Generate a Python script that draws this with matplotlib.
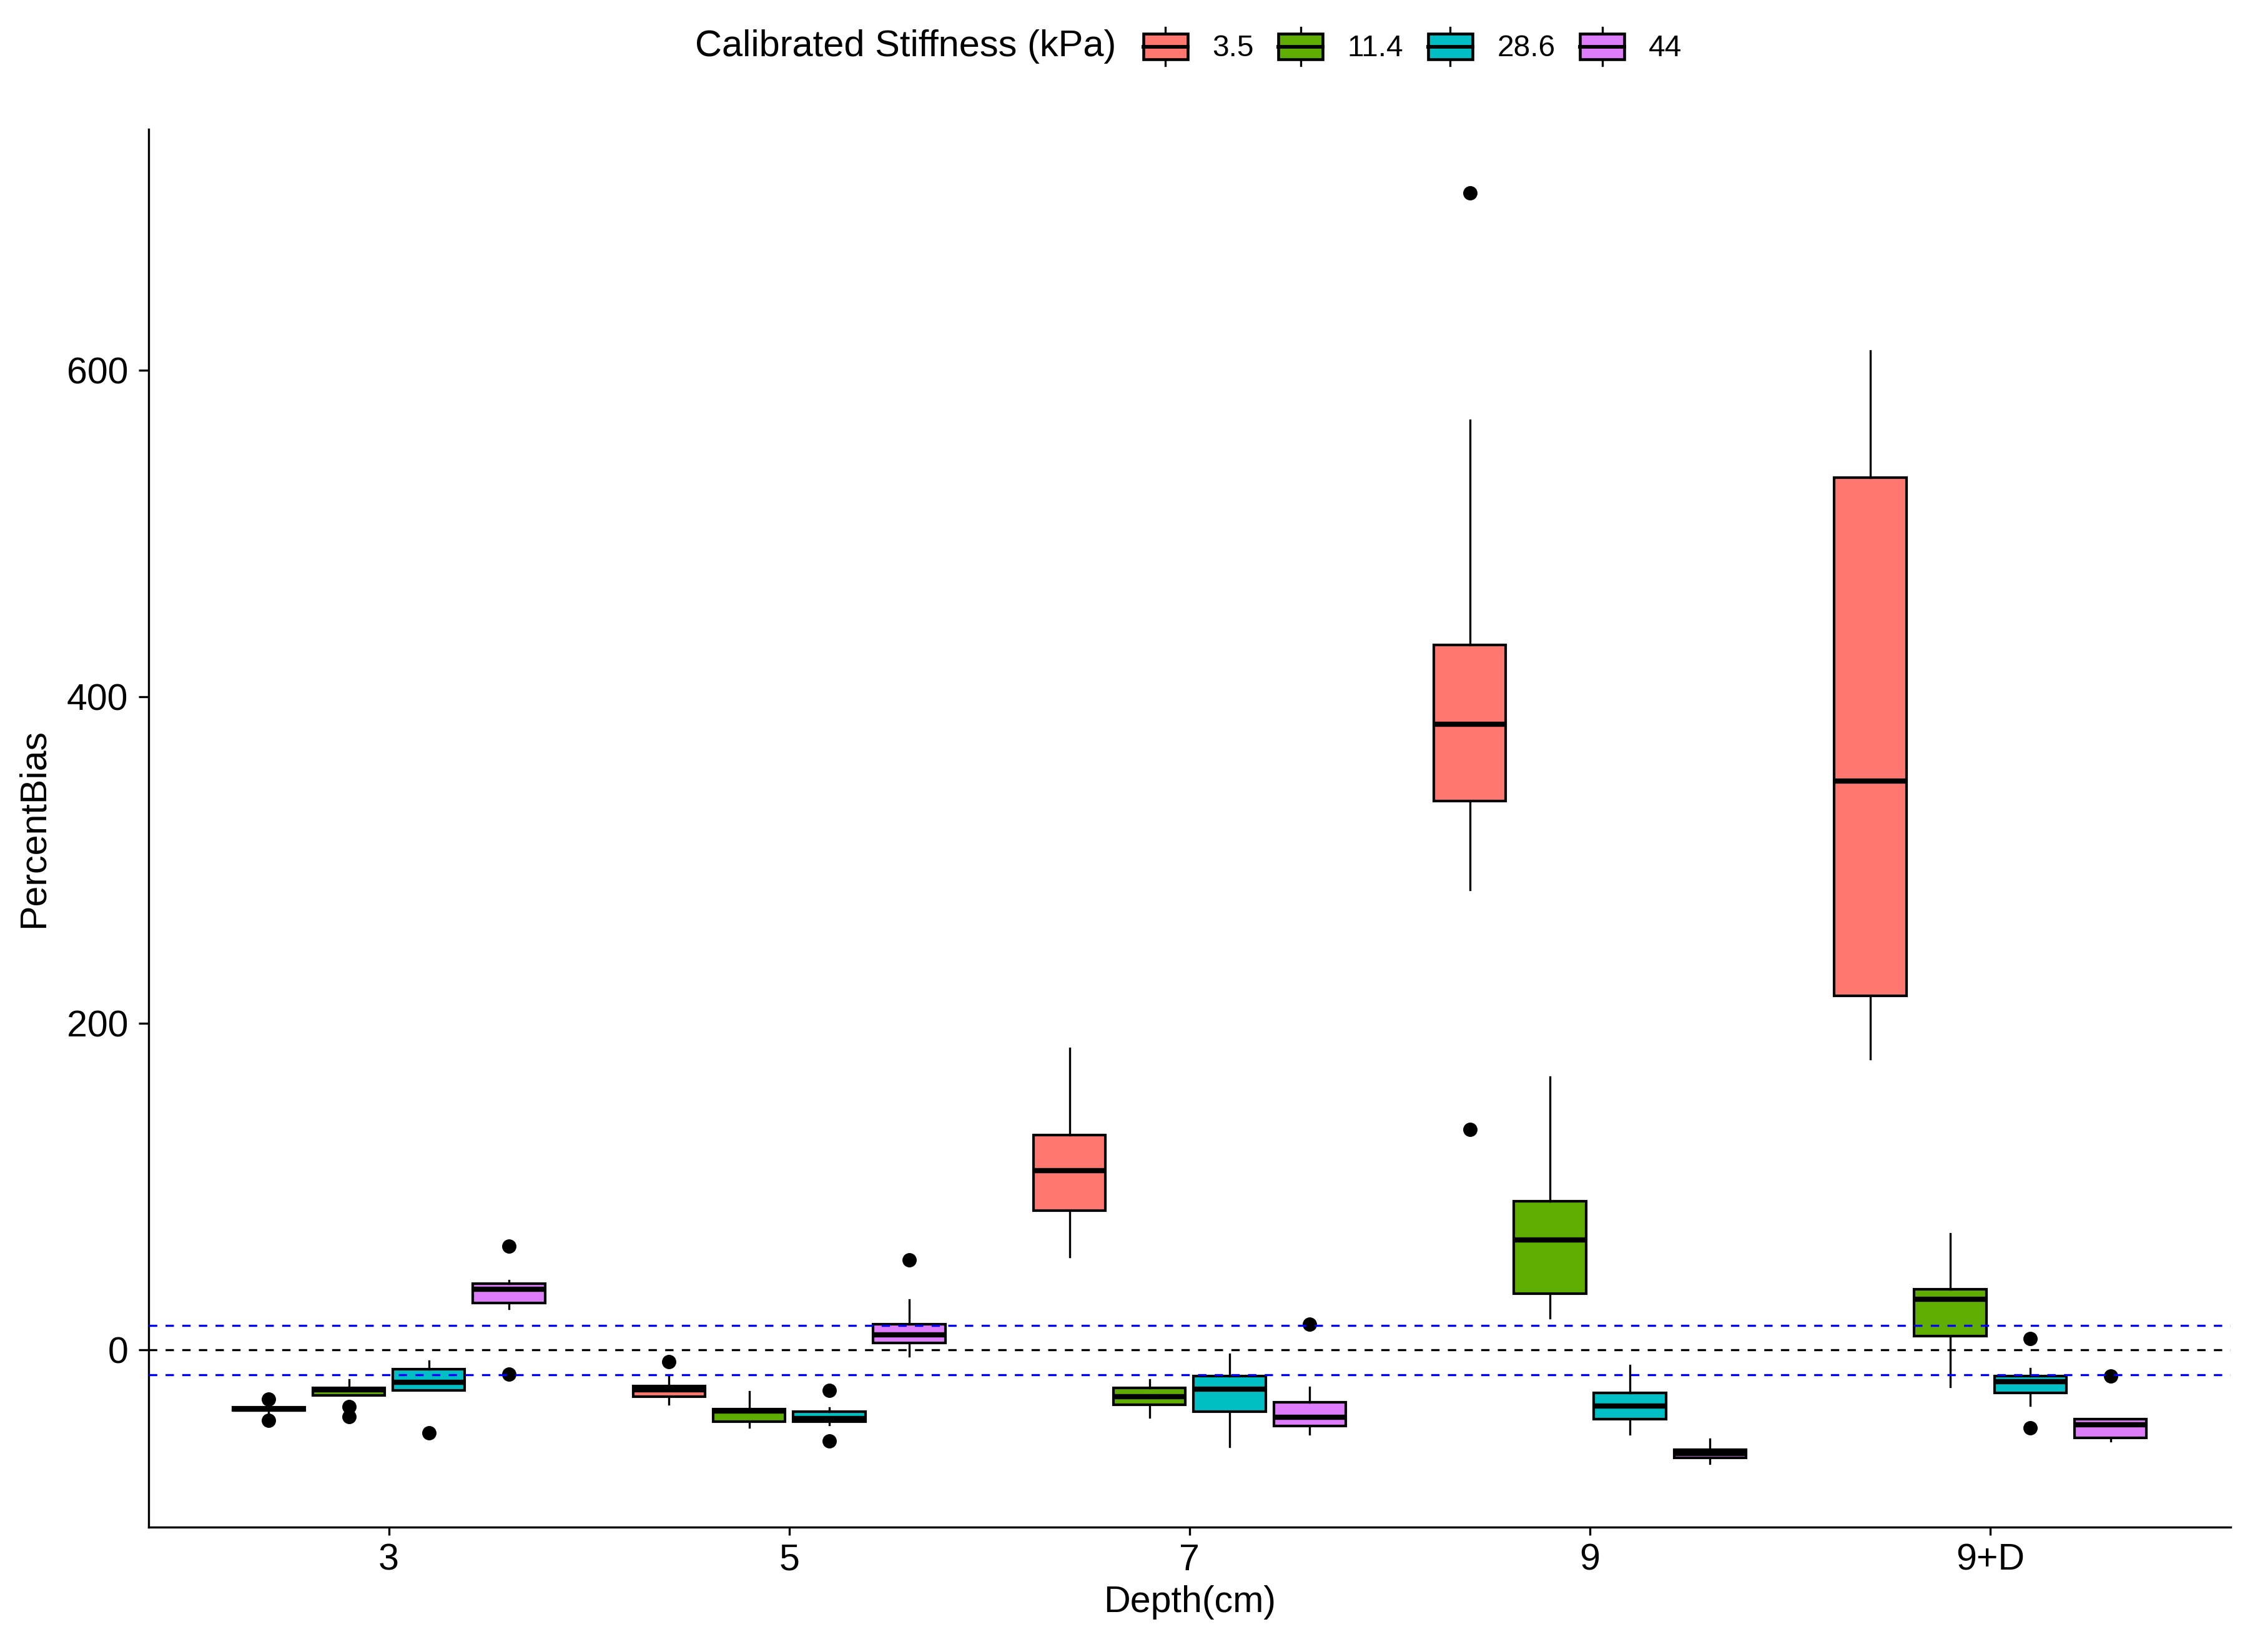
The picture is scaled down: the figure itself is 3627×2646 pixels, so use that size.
import matplotlib
matplotlib.use("Agg")
import matplotlib.pyplot as plt
from matplotlib.patches import Rectangle
from matplotlib.lines import Line2D
from matplotlib.legend_handler import HandlerBase

plt.rcParams["font.family"] = ["Liberation Sans", "DejaVu Sans"]

# -------------------------
# Data
# -------------------------
depths = ["3", "5", "7", "9", "9+D"]
stiffness = ["3.5", "11.4", "28.6", "44"]
colors = ["#FF776E", "#5FAD00", "#00BFC4", "#DE7DF9"]

# 3.5 kPa
q1_35 = [-37.0, -28.4, 85.2, 336.1, 216.7]
med_35 = [-36.1, -24.5, 109.7, 383.3, 348.5]
q3_35 = [-35.2, -21.9, 131.8, 431.8, 534.2]
lo_35 = [-39.7, -33.0, 56.9, 281.8, 178.1]
hi_35 = [-32.8, -15.6, 184.9, 569.4, 611.8]
out_35 = [[-30.2, -42.9], [-7.3], [], [708.5, 135.0], []]

# 11.4 kPa
q1_114 = [-27.7, -43.8, -33.5, 34.7, 8.5]
med_114 = [-24.2, -37.3, -28.4, 67.3, 31.1]
q3_114 = [-23.3, -36.2, -23.3, 91.1, 37.4]
lo_114 = [-27.7, -47.4, -41.2, 19.5, -22.6]
hi_114 = [-18.4, -25.5, -18.4, 167.0, 71.4]
out_114 = [[-34.7, -40.7], [], [], [], []]

# 28.6 kPa
q1_286 = [-24.8, -43.8, -37.8, -42.1, -26.2]
med_286 = [-19.9, -42.0, -24.1, -34.2, -19.5]
q3_286 = [-11.8, -37.8, -16.1, -26.2, -16.1]
lo_286 = [-24.8, -45.6, -59.1, -51.5, -34.0]
hi_286 = [-6.9, -35.6, -2.4, -9.6, -11.2]
out_286 = [[-50.6], [-24.9, -55.5], [], [], [7.2, -47.7]]

# 44 kPa
q1_44 = [28.8, 4.2, -46.5, -66.0, -53.7]
med_44 = [37.1, 9.4, -41.2, -63.5, -45.6]
q3_44 = [40.5, 15.9, -32.0, -60.9, -42.1]
lo_44 = [25.5, -3.6, -51.4, -69.5, -55.5]
hi_44 = [42.5, 30.7, -22.8, -54.6, -42.1]
out_44 = [[63.7, -14.6], [55.0], [15.7], [], [-15.9]]

series = [
    (q1_35, med_35, q3_35, lo_35, hi_35, out_35),
    (q1_114, med_114, q3_114, lo_114, hi_114, out_114),
    (q1_286, med_286, q3_286, lo_286, hi_286, out_286),
    (q1_44, med_44, q3_44, lo_44, hi_44, out_44),
]

offsets = [-0.3, -0.1, 0.1, 0.3]


# legend key drawn like a small boxplot
class BoxKey(HandlerBase):
    def create_artists(self, legend, orig_handle, xdescent, ydescent,
                       width, height, fontsize, trans):
        x0, y0 = -xdescent, -ydescent
        fc = orig_handle.get_facecolor()
        bh = height * 0.67
        by = y0 + (height - bh) / 2
        xc = x0 + width / 2
        wl = Line2D([xc, xc], [y0, y0 + height], color="black", lw=0.8, transform=trans)
        box = Rectangle((x0, by), width, bh, facecolor=fc, edgecolor="black",
                        lw=1.1, transform=trans)
        med = Line2D([x0, x0 + width], [by + bh / 2] * 2, color="black", lw=1.4,
                     transform=trans)
        return [wl, box, med]


# -------------------------
# Plot
# -------------------------
fig = plt.figure(figsize=(3627 / 300, 2646 / 300), dpi=300)
ax = fig.add_axes([0.0656, 0.0756, 0.9192, 0.8462])

all_vals = []
for k, (q1, med, q3, lo, hi, out) in enumerate(series):
    stats = []
    for i in range(len(depths)):
        stats.append(dict(q1=q1[i], med=med[i], q3=q3[i],
                          whislo=lo[i], whishi=hi[i], fliers=out[i]))
        all_vals += [lo[i], hi[i]] + out[i]
    pos = [i + 1 + offsets[k] for i in range(len(depths))]
    ax.bxp(stats, positions=pos, widths=0.18, patch_artist=True,
           showcaps=False, manage_ticks=False,
           boxprops=dict(facecolor=colors[k], edgecolor="black", linewidth=1.0),
           whiskerprops=dict(color="black", linewidth=0.8),
           medianprops=dict(color="black", linewidth=2.0, solid_capstyle="butt"),
           flierprops=dict(marker="o", markerfacecolor="black",
                           markeredgecolor="black", markersize=4.5))

ax.axhline(0, color="black", linestyle=(0, (4, 4)), linewidth=0.8, zorder=5)
ax.axhline(15, color="blue", linestyle=(0, (4, 4)), linewidth=0.8, zorder=5)
ax.axhline(-15, color="blue", linestyle=(0, (4, 4)), linewidth=0.8, zorder=5)

# ggplot-style 5% expansion
vmin, vmax = min(all_vals), max(all_vals)
pad = 0.05 * (vmax - vmin)
ax.set_ylim(vmin - pad, vmax + pad)
ax.set_xlim(0.4, len(depths) + 0.6)
ax.set_xticks(range(1, len(depths) + 1))
ax.set_xticklabels(depths)
ax.set_yticks([0, 200, 400, 600])

for s in ["top", "right"]:
    ax.spines[s].set_visible(False)
for s in ["left", "bottom"]:
    ax.spines[s].set_linewidth(0.8)
    ax.spines[s].set_color("black")
ax.tick_params(axis="both", labelsize=14.2, width=0.8, colors="black")
ax.tick_params(axis="x", length=3.2, pad=3)
ax.tick_params(axis="y", length=3.8, pad=4)

ax.set_xlabel("Depth(cm)", fontsize=14.2, labelpad=3)
ax.set_ylabel("PercentBias", fontsize=14.2, labelpad=6)

# legend on top, title to the left of keys
fig.text(0.4927, 0.9718, "Calibrated Stiffness (kPa)", fontsize=14.3,
         ha="right", va="center")
handles = [Rectangle((0, 0), 1, 1, facecolor=c) for c in colors]
fig.legend(handles, stiffness, loc="center left", bbox_to_anchor=(0.5048, 0.9718),
           ncol=4, frameon=False, fontsize=11.5, handler_map={Rectangle: BoxKey()},
           handlelength=1.48, handleheight=1.58, handletextpad=0.82,
           columnspacing=0.83, borderpad=0, borderaxespad=0)

fig.savefig("out.png", dpi=300)
